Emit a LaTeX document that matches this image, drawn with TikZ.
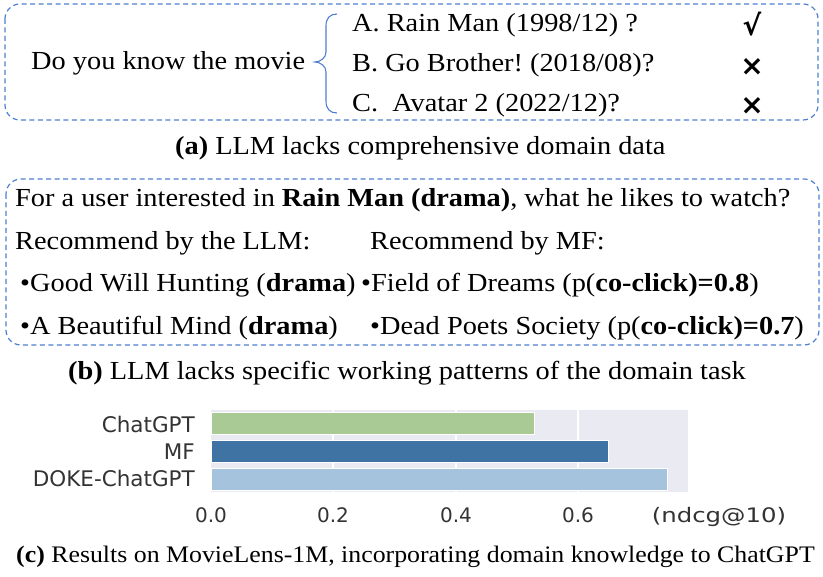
\documentclass[tikz,border=0pt]{standalone}
\usepackage{fontspec}
\setmainfont[FakeStretch=1.09]{Liberation Serif}
\newfontfamily\chartfont{DejaVu Sans}
\frenchspacing
\definecolor{boxblue}{HTML}{4F7FD0}
\definecolor{bargreen}{HTML}{A9C995}
\definecolor{bardark}{HTML}{3F73A3}
\definecolor{barlight}{HTML}{A6C3DD}
\definecolor{plotbg}{HTML}{EAEAF2}
\definecolor{charttext}{HTML}{333333}
\tikzset{
  dashbox/.style={draw=boxblue, line width=1.2pt, dash pattern=on 5pt off 3.5pt, rounded corners=15pt},
  txt/.style={inner sep=0pt, anchor=base west, font=\fontsize{26}{30}\selectfont},
  captxt/.style={inner sep=0pt, anchor=base west, font=\fontsize{26}{30}\selectfont},
  captxtc/.style={inner sep=0pt, anchor=base west, font=\fontsize{23.7}{27}\selectfont},
  ansmark/.style={inner sep=0pt, anchor=center, font=\chartfont\bfseries\fontsize{28}{30}\selectfont},
  ylab/.style={inner sep=0pt, anchor=base east, text=charttext, font=\chartfont\fontsize{21.5}{24}\selectfont},
  xlab/.style={inner sep=0pt, anchor=base, text=charttext, font=\chartfont\fontsize{20}{24}\selectfont},
  barbox/.style={draw=white, line width=0.8pt},
  gridline/.style={draw=white, line width=1.3pt}
}
\begin{document}
\begin{tikzpicture}[x=1pt,y=-1pt]
\useasboundingbox (0,0) rectangle (823,577);
% ---------- (a)
\draw[dashbox] (5,4) rectangle (818,120);
\node[txt] (q) at (31,70) {Do you know the movie};
\draw[boxblue, line width=1.1pt] (337,14) .. controls (330,14) and (326,18) .. (326,26) -- (326,52)
  .. controls (326,58) and (320,62) .. (315,62) .. controls (320,62) and (326,66) .. (326,72)
  -- (326,101) .. controls (326,109) and (330,113) .. (337,113);
\node[txt] (oa) at (352,32) {A. Rain Man (1998/12) ?};
\node[txt] (ob) at (352,72) {B. Go Brother! (2018/08)?};
\node[txt] (oc) at (352,112) {C.\ \ Avatar 2 (2022/12)?};
\node[ansmark] (ma) at (752,24) {√};
\node[ansmark] (mb) at (752,67.5) {×};
\node[ansmark] (mc) at (752,106.5) {×};
\node[captxt] (capa) at (175,155) {\textbf{(a)} LLM lacks comprehensive domain data};
% ---------- (b)
\draw[dashbox] (6,179) rectangle (819,345);
\node[txt] (for) at (15,207) {For a user interested in \textbf{Rain Man (drama)}, what he likes to watch?};
\node[txt] (rl) at (15,250) {Recommend by the LLM:};
\node[txt] (rm) at (370,250) {Recommend by MF:};
\node[txt] (l1) at (20,292) {•Good Will Hunting (\textbf{drama})};
\node[txt] (m1) at (361,292) {•Field of Dreams (p(\textbf{co-click)=0.8})};
\node[txt] (l2) at (20,335) {•A Beautiful Mind (\textbf{drama})};
\node[txt] (m2) at (370,335) {•Dead Poets Society (p(\textbf{co-click)=0.7})};
\node[captxt] (capb) at (68,380) {\textbf{(b)} LLM lacks specific working patterns of the domain task};
% ---------- (c) chart
\fill[plotbg] (211,410) rectangle (688,492);
\foreach \gx in {333,456,578} \draw[gridline] (\gx,410) -- (\gx,492);
\draw[barbox, fill=bargreen] (211,412.5) rectangle (534,434.5);
\draw[barbox, fill=bardark] (211,440.5) rectangle (608,462.5);
\draw[barbox, fill=barlight] (211,468) rectangle (667,490);
\node[ylab] (y1) at (195,433) {ChatGPT};
\node[ylab] (y2) at (195,460) {MF};
\node[ylab] (y3) at (195,487) {DOKE-ChatGPT};
\node[xlab] (x0) at (211,522) {0.0};
\node[xlab] (x1) at (333,522) {0.2};
\node[xlab] (x2) at (456,522) {0.4};
\node[xlab] (x3) at (578,522) {0.6};
\node[xlab, xscale=1.22, transform shape] (xn) at (719,522) {(ndcg@10)};
\node[captxtc] (capc) at (16,562) {\textbf{(c)} Results on MovieLens-1M, incorporating domain knowledge to ChatGPT};
\end{tikzpicture}
\end{document}
